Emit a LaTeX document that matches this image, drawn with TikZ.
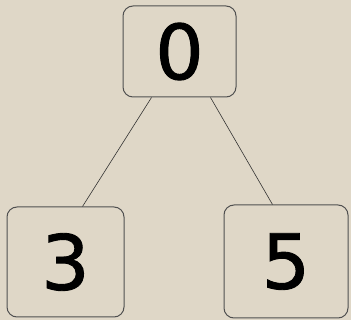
\documentclass[tikz,border=0pt]{standalone}
\usepackage{fontspec}
\setmainfont{DejaVu Sans}
\newfontfamily\digitfont{DejaVu Sans}[FakeBold=1.2]
\definecolor{bgbeige}{HTML}{DFD7C7}
\definecolor{edgegray}{HTML}{505050}
\begin{document}
\begin{tikzpicture}[x=1pt,y=-1pt,
  box/.style={draw=edgegray,line width=1pt,rounded corners=10pt,inner sep=0pt,
    font=\digitfont\fontsize{76}{76}\selectfont},
  link/.style={draw=black!80,line width=0.6pt}]
\fill[bgbeige] (0,0) rectangle (351,320);
\useasboundingbox (0,0) rectangle (351,320);
\node[box,minimum width=113pt,minimum height=91pt] (top) at (179.5,51.5) {0};
\node[box,minimum width=117pt,minimum height=110pt] (left) at (65.5,262) {3};
\node[box,minimum width=124pt,minimum height=113pt] (right) at (286,261.5) {5};
\draw[link] ([xshift=29pt]top.south west) -- ([xshift=76pt]left.north west);
\draw[link] ([xshift=-26pt]top.south east) -- ([xshift=49pt]right.north west);
\end{tikzpicture}
\end{document}
